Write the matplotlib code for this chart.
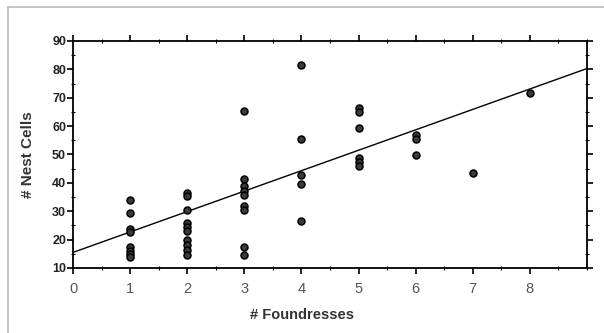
import numpy as np
import matplotlib.pyplot as plt
from matplotlib.ticker import MultipleLocator
from matplotlib.lines import Line2D

plt.rcParams['font.family'] = ['Liberation Sans', 'DejaVu Sans']

# number of foundresses and nest cells, one entry per nest
foundresses = [1, 1, 1, 1, 1, 1, 1, 1,
               2, 2, 2, 2, 2, 2, 2, 2, 2, 2,
               3, 3, 3, 3, 3, 3, 3, 3, 3,
               4, 4, 4, 4, 4,
               5, 5, 5, 5, 5, 5,
               6, 6, 6,
               7,
               8]
nest_cells = [34, 29.4, 23.7, 22.7, 17.3, 16.1, 15, 14,
              36.4, 35.5, 30.4, 25.8, 24.4, 23, 19.7, 18.1, 16.4, 14.6,
              65.2, 41.5, 38.8, 37.3, 35.6, 31.7, 30.5, 17.5, 14.6,
              81.5, 55.3, 42.7, 39.6, 26.6,
              66.5, 65.1, 59.3, 48.8, 47.4, 46,
              56.7, 55.3, 49.8,
              43.5,
              71.5]

# trend line
trend_x = [0, 9]
trend_y = [15.5, 80.3]

fig = plt.figure(figsize=(6.04, 3.33), dpi=100)
ax = fig.add_axes([0.1209, 0.1952, 0.851, 0.6817])

ax.plot(trend_x, trend_y, color='black', lw=1.0, zorder=2)
ax.plot(foundresses, nest_cells, 'o', ms=5, mfc='#3a3a3a', mec='black',
        mew=1.1, zorder=3)

ax.set_xlim(0, 9)
ax.set_ylim(10, 90)
ax.yaxis.set_major_locator(MultipleLocator(10))
ax.yaxis.set_minor_locator(MultipleLocator(5))
ax.set_xticks(range(0, 9))
ax.set_xticks(np.arange(0, 9.01, 0.5), minor=True)

ax.tick_params(axis='both', which='major', direction='out', length=4,
               width=1.2, color='black')
ax.tick_params(axis='both', which='minor', direction='inout', length=3,
               width=0.8, color='black')
ax.tick_params(axis='x', labelsize=10.5, labelcolor='#555555', pad=6)
ax.tick_params(axis='y', labelsize=9, pad=1)
for lab in ax.get_yticklabels():
    lab.set_fontweight('bold')
    lab.set_color('#222222')
ax.tick_params(top=True, right=True, which='both')

for sp in ax.spines.values():
    sp.set_linewidth(1.3)
    sp.set_color('black')

ax.set_ylabel('# Nest Cells', fontsize=11, fontweight='bold',
              color='#333333', labelpad=12)
fig.text(302 / 604, 1 - 315 / 333, '# Foundresses', fontsize=10.5,
         fontweight='bold', color='#333333', ha='center', va='center')

# light outer frame of the picture
fig.add_artist(Line2D([8 / 604, 1], [1 - 7 / 333, 1 - 7 / 333],
                      transform=fig.transFigure, color='#bbbbbb', lw=1.2))
fig.add_artist(Line2D([8 / 604, 8 / 604], [0, 1 - 7 / 333],
                      transform=fig.transFigure, color='#bbbbbb', lw=1.2))

fig.savefig('out.png', dpi=100)
